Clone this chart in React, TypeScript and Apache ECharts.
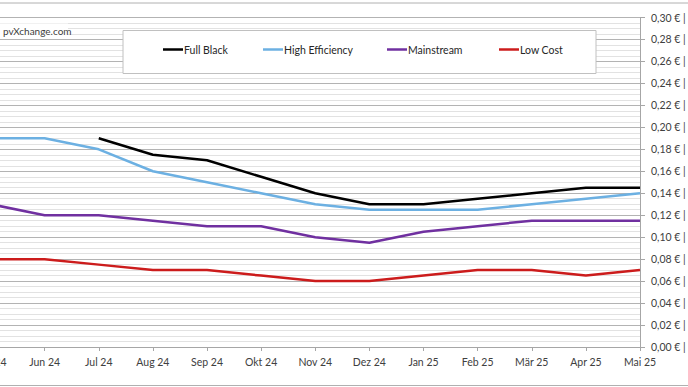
import React, { useEffect, useRef } from "react";
import * as echarts from "echarts";

const categories = ["Mai 24", "Jun 24", "Jul 24", "Aug 24", "Sep 24", "Okt 24", "Nov 24", "Dez 24", "Jan 25", "Feb 25", "Mär 25", "Apr 25", "Mai 25"];
const fullBlack = [null, null, 0.19, 0.175, 0.17, 0.155, 0.14, 0.13, 0.13, 0.135, 0.14, 0.145, 0.145];
const highEfficiency = [0.19, 0.19, 0.18, 0.16, 0.15, 0.14, 0.13, 0.125, 0.125, 0.125, 0.13, 0.135, 0.14];
const mainstream = [0.13, 0.12, 0.12, 0.115, 0.11, 0.11, 0.1, 0.095, 0.105, 0.11, 0.115, 0.115, 0.115];
const lowCost = [0.08, 0.08, 0.075, 0.07, 0.07, 0.065, 0.06, 0.06, 0.065, 0.07, 0.07, 0.065, 0.07];
const seriesNames = ["Full Black", "High Efficiency", "Mainstream", "Low Cost"];
const yTickLabels = ["0,00 € |", "0,02 € |", "0,04 € |", "0,06 € |", "0,08 € |", "0,10 € |", "0,12 € |", "0,14 € |", "0,16 € |", "0,18 € |", "0,20 € |", "0,22 € |", "0,24 € |", "0,26 € |", "0,28 € |", "0,30 € |"];
const sourceLabel = "pvXchange.com";

const colors = ["#000000", "#6cb0e2", "#7030a0", "#cc1c1c"];
const FONT = "Lato";

export default function App() {
  const ref = useRef<HTMLDivElement>(null);
  useEffect(() => {
    if (!ref.current) return;
    const chart = echarts.init(ref.current, null, { renderer: "svg" });
    const dataSets = [fullBlack, highEfficiency, mainstream, lowCost];
    const legendLefts = [163, 263, 387, 499];
    chart.setOption({
      animation: false,
      textStyle: { fontFamily: FONT },
      grid: { left: -9.5, right: 48, top: 17.5, bottom: 40, containLabel: false, outerBoundsMode: "none" },
      legend: seriesNames.map((n, i) => ({
        data: [n],
        left: legendLefts[i],
        top: 44,
        icon: "rect",
        itemWidth: 20,
        itemHeight: 2.5,
        itemGap: 0,
        padding: 0,
        selectedMode: false,
        z: 6,
        textStyle: { fontFamily: FONT, fontSize: 10.5, color: "#262626", padding: [0, 0, 0, -4] },
      })),
      xAxis: {
        type: "category",
        data: categories,
        boundaryGap: false,
        axisLine: { show: true, lineStyle: { color: "#a6a6a6", width: 1 } },
        axisTick: { show: true, length: 4, lineStyle: { color: "#a6a6a6" } },
        axisLabel: { color: "#404040", fontSize: 10.5, fontFamily: FONT, margin: 9, showMinLabel: true, showMaxLabel: true, interval: 0, hideOverlap: false },
        splitLine: { show: false },
      },
      yAxis: {
        type: "value",
        position: "right",
        min: 0,
        max: 0.3,
        interval: 0.02,
        axisLine: { show: true, lineStyle: { color: "#a6a6a6", width: 1 } },
        axisTick: { show: true, length: 5, lineStyle: { color: "#a6a6a6" } },
        axisLabel: {
          color: "#404040",
          fontSize: 10.5,
          fontFamily: FONT,
          margin: 11,
          formatter: (v: number) => yTickLabels[Math.round(v / 0.02)] ?? "",
        },
        splitLine: { show: true, lineStyle: { color: "#b3b3b3", width: 1 } },
        minorTick: { show: false, splitNumber: 4 },
        minorSplitLine: { show: true, lineStyle: { color: "#e2e2e2", width: 1 } },
      },
      graphic: [
        {
          type: "rect",
          z: 0,
          silent: true,
          shape: { x: -2, y: 3, width: 692, height: 382.5 },
          style: { fill: "none", stroke: "#b0b0b0", lineWidth: 1 },
        },
        {
          type: "rect",
          z: 5,
          silent: true,
          shape: { x: 123, y: 30.5, width: 473, height: 43 },
          style: { fill: "#ffffff", stroke: "#c0c0c0", lineWidth: 1 },
        },
        {
          type: "rect",
          z: 5,
          silent: true,
          shape: { x: 0, y: 23.5, width: 68, height: 15 },
          style: { fill: "#ffffff" },
        },
        {
          type: "text",
          z: 6,
          silent: true,
          x: 3,
          y: 31,
          style: { text: sourceLabel, fill: "#404040", font: `10px ${FONT}`, verticalAlign: "middle" },
        },
      ],
      series: seriesNames.map((n, i) => ({
        name: n,
        type: "line",
        data: dataSets[i],
        symbol: "none",
        smooth: false,
        color: colors[i],
        itemStyle: { color: colors[i] },
        lineStyle: { color: colors[i], width: 2.5 },
        z: 2,
      })),
    });
    return () => chart.dispose();
  }, []);
  return (
    <div style={{ position: "fixed", left: 0, top: 0, width: 688, height: 387, background: "#fff" }}>
      <div ref={ref} style={{ width: 688, height: 387 }} />
    </div>
  );
}
